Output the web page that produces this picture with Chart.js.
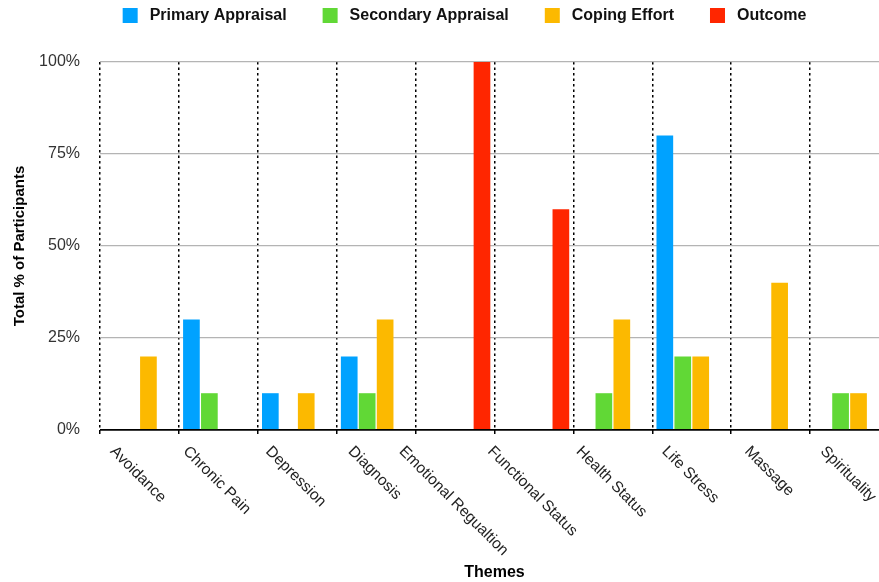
<!DOCTYPE html>
<html>
<head>
<meta charset="utf-8">
<script src="https://cdn.jsdelivr.net/npm/chart.js@4"></script>
<style>
  html, body { margin: 0; padding: 0; background: #fff; overflow: hidden; }
  canvas { display: block; }
</style>
</head>
<body>
<canvas id="chart" width="892" height="582"></canvas>
<script>
// Themes along the x axis
const themes = ['Avoidance', 'Chronic Pain', 'Depression', 'Diagnosis', 'Emotional Regualtion',
  'Functional Status', 'Health Status', 'Life Stress', 'Massage', 'Spirituality'];

// Share of participants (%) per theme for each stage
const primaryAppraisal   = [0, 30, 10, 20, 0, 0, 0, 80, 0, 0];
const secondaryAppraisal = [0, 10, 0, 10, 0, 0, 10, 20, 0, 10];
const copingEffort       = [20, 0, 10, 30, 0, 0, 30, 20, 40, 10];
const outcome            = [0, 0, 0, 0, 100, 60, 0, 0, 0, 0];

// Y axis tick values (%)
const yTicks = [0, 25, 50, 75, 100];

const seriesNames  = ['Primary Appraisal', 'Secondary Appraisal', 'Coping Effort', 'Outcome'];
const seriesColors = ['#00a2ff', '#61d836', '#fcb900', '#ff2600'];
const seriesValues = [primaryAppraisal, secondaryAppraisal, copingEffort, outcome];

const FONT = '"Liberation Sans", Helvetica, Arial, sans-serif';
Chart.defaults.font.family = FONT;

// Legend row across the top
const topLegend = {
  id: 'topLegend',
  afterDraw(chart) {
    const ctx = chart.ctx;
    ctx.save();
    ctx.font = 'bold 16px ' + FONT;
    ctx.textBaseline = 'middle';
    ctx.textAlign = 'left';
    const box = 15, gapText = 12, gapItem = 36;
    const widths = seriesNames.map(n => ctx.measureText(n).width);
    const total = widths.reduce((a, w) => a + box + gapText + w, 0) + gapItem * (seriesNames.length - 1);
    let x = 464.5 - total / 2;
    const cy = 15.5;
    seriesNames.forEach((name, i) => {
      ctx.fillStyle = seriesColors[i];
      ctx.fillRect(x, cy - box / 2, box, box);
      ctx.fillStyle = '#111';
      ctx.fillText(name, x + box + gapText, cy + 0.5);
      x += box + gapText + widths[i] + gapItem;
    });
    ctx.restore();
  }
};

// Slanted category labels under the x axis, centred on each category
const slantedLabels = {
  id: 'slantedLabels',
  afterDraw(chart) {
    const ctx = chart.ctx;
    const xs = chart.scales.x;
    ctx.save();
    ctx.font = '15.5px ' + FONT;
    ctx.fillStyle = '#222';
    ctx.textBaseline = 'middle';
    ctx.textAlign = 'left';
    const k = Math.SQRT1_2 / 2;
    themes.forEach((t, i) => {
      const cx = xs.getPixelForValue(i);
      const w = ctx.measureText(t).width;
      ctx.save();
      ctx.translate(cx - 1.5 - k * w * 2 * 0.5, xs.top + 19);
      ctx.rotate(Math.PI / 4);
      ctx.fillText(t, 0, 0);
      ctx.restore();
    });
    ctx.restore();
  }
};

new Chart(document.getElementById('chart'), {
  type: 'bar',
  data: {
    labels: themes,
    datasets: seriesNames.map((name, i) => ({
      label: name,
      data: seriesValues[i],
      backgroundColor: seriesColors[i],
      borderWidth: 0,
      categoryPercentage: 0.91,
      barPercentage: 0.93
    }))
  },
  options: {
    responsive: false,
    animation: false,
    devicePixelRatio: 1,
    layout: { padding: { top: 62, right: 3, left: 0, bottom: 0 } },
    plugins: {
      legend: { display: false },
      tooltip: { enabled: false }
    },
    scales: {
      x: {
        afterFit(scale) { scale.height = 152; },
        border: { display: false, dash: [2.5, 3] },
        grid: {
          offset: true,
          color: '#000',
          lineWidth: 1.5,
          drawTicks: true,
          tickLength: 4,
          tickColor: '#000',
          tickWidth: 1.5,
          tickBorderDash: []
        },
        ticks: { display: false },
        title: {
          display: true,
          text: 'Themes',
          color: '#000',
          font: { size: 16, weight: 'bold', lineHeight: 1.2 },
          padding: { top: 0, bottom: 0 }
        }
      },
      y: {
        min: 0,
        max: 100,
        afterFit(scale) { scale.width = 100; },
        afterBuildTicks(scale) { scale.ticks = yTicks.map(v => ({ value: v })); },
        border: { display: false },
        grid: {
          drawTicks: false,
          color: ctx => ctx.tick && ctx.tick.value === 0 ? '#000' : '#b4b4b4',
          lineWidth: ctx => ctx.tick && ctx.tick.value === 0 ? 1.8 : 1.2
        },
        ticks: {
          padding: 20,
          color: '#333',
          font: { size: 16 },
          callback: v => v + '%'
        },
        title: {
          display: true,
          text: 'Total % of Participants',
          color: '#000',
          font: { size: 15, weight: 'bold', lineHeight: 1.2 },
          padding: { top: 11, bottom: 0 }
        }
      }
    }
  },
  plugins: [topLegend, slantedLabels]
});
</script>
</body>
</html>
